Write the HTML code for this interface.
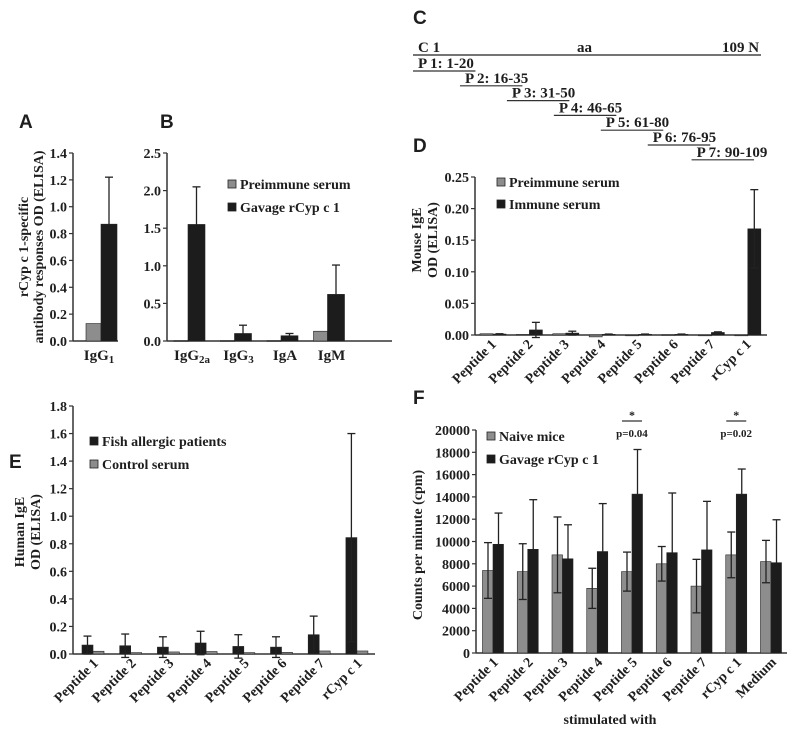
<!DOCTYPE html>
<html><head><meta charset="utf-8"><style>
html,body{margin:0;padding:0;background:#fff;}
svg{display:block;}
text{font-family:"Liberation Serif",serif;font-weight:bold;fill:#1e1e1e;}
.pl{font-family:"Liberation Sans",sans-serif;font-size:19px;}
</style></head><body>
<svg id="fig" width="800" height="735" viewBox="0 0 800 735" xmlns="http://www.w3.org/2000/svg">
<text class="pl" x="19" y="128">A</text>
<text class="pl" x="160" y="128">B</text>
<text class="pl" x="413" y="24">C</text>
<text class="pl" x="413" y="152">D</text>
<text class="pl" x="9" y="468">E</text>
<text class="pl" x="413" y="404">F</text>
<g id="panelC">
<line x1="413" y1="55" x2="761" y2="55" stroke="#222" stroke-width="1.3"/>
<text x="418" y="52" font-size="15">C 1</text>
<text x="577" y="52" font-size="15">aa</text>
<text x="722" y="52" font-size="15">109 N</text>
</g>
</svg>
<script>
// ---------- data ----------
const aCats = ["IgG1"];
const aPre = [0.13];
const aGav = [0.87];
const aGavErr = [0.35];

const bCats = ["IgG2a","IgG3","IgA","IgM"];
const bPre = [0.005,0.005,0.005,0.13];
const bGav = [1.55,0.10,0.07,0.62];
const bGavErr = [0.50,0.11,0.03,0.39];

const cPeptides = ["P 1: 1-20","P 2: 16-35","P 3: 31-50","P 4: 46-65","P 5: 61-80","P 6: 76-95","P 7: 90-109"];
const cStart = [1,16,31,46,61,76,90];
const cEnd = [20,35,50,65,80,95,109];

const dCats = ["Peptide 1","Peptide 2","Peptide 3","Peptide 4","Peptide 5","Peptide 6","Peptide 7","rCyp c 1"];
const dPre = [0.002,0.001,0.002,-0.003,0,0.0005,-0.001,-0.001];
const dImm = [0.0015,0.008,0.003,0.001,0.001,0.001,0.004,0.168];
const dImmErr = [0.0005,0.012,0.003,0.0005,0.0005,0.0005,0.001,0.062];
const dTicks = ["0.00","0.05","0.10","0.15","0.20","0.25"];

const eCats = ["Peptide 1","Peptide 2","Peptide 3","Peptide 4","Peptide 5","Peptide 6","Peptide 7","rCyp c 1"];
const ePat = [0.065,0.06,0.05,0.08,0.055,0.05,0.14,0.845];
const ePatErr = [0.065,0.085,0.075,0.085,0.085,0.075,0.135,0.755];
const eCtl = [0.02,0.01,0.015,0.018,0.01,0.012,0.022,0.022];

const fCats = ["Peptide 1","Peptide 2","Peptide 3","Peptide 4","Peptide 5","Peptide 6","Peptide 7","rCyp c 1","Medium"];
const fNaive = [7400,7300,8800,5800,7300,8000,6000,8800,8200];
const fNaiveErr = [2500,2500,3400,1800,1750,1550,2400,2050,1900];
const fGav = [9750,9300,8450,9100,14250,9000,9250,14250,8100];
const fGavErr = [2800,4450,3050,4300,4000,5350,4350,2250,3850];

// ---------- helpers ----------
const NS="http://www.w3.org/2000/svg";
const svg=document.getElementById('fig');
function el(tag,attrs,parent){const e=document.createElementNS(NS,tag);for(const k in attrs)e.setAttribute(k,attrs[k]);(parent||svg).appendChild(e);return e;}
const GRAY="#8d8d8d", BLACK="#1c1c1c";

function axis(o){
  const ys=v=>o.yZero-(v-o.vmin)/(o.vmax-o.vmin)*(o.yZero-o.yTop);
  const g=el('g',{});
  
  
  const yl=el('line',{x1:o.x0,y1:o.yTop,x2:o.x0,y2:o.yZero,stroke:'#333','stroke-width':1.5},g);
  
  
  const xl=el('line',{x1:o.x0,y1:o.yZero,x2:o.x1,y2:o.yZero,stroke:'#333','stroke-width':1.5},g);
  
  
  o.ticks.forEach((t,i)=>{
    const y=ys(t);
    el('line',{x1:o.x0-4,y1:y,x2:o.x0,y2:y,stroke:'#333','stroke-width':1.2},g);
    const tx=el('text',{x:o.x0-6,y:y+5,'text-anchor':'end','font-size':o.fs||14},g);
    tx.textContent=o.labels?o.labels[i]:t.toFixed(o.dec);
    
    
  });
  return ys;
}
function bar(x,w,y0,y1,fill,name){
  const r=el('rect',{x:x,y:Math.min(y0,y1),width:w,height:Math.max(0.8,Math.abs(y1-y0)),fill:fill,stroke:'#222','stroke-width':0.6});
  
  
}
function err(x,yv,ytop,ybot,name){
  const g=el('g',{stroke:'#222','stroke-width':1.3});
  
  
  el('line',{x1:x,y1:ybot,x2:x,y2:ytop},g);
  el('line',{x1:x-4,y1:ytop,x2:x+4,y2:ytop},g);
  if(ybot!==yv) el('line',{x1:x-4,y1:ybot,x2:x+4,y2:ybot},g);
}
function rotLabels(cats,cx,y0,name,dx){
  cats.forEach((c,i)=>{
    const x=cx(i)+dx, y=y0+10;
    const t=el('text',{x:x,y:y,'text-anchor':'end','font-size':14,transform:`rotate(-45 ${x} ${y})`});
    t.textContent=c;
    
    
  });
}
function legend(x,y,fill,label,name){
  const r=el('rect',{x:x,y:y-9,width:8,height:8,fill:fill,stroke:'#222','stroke-width':0.8});
  
  
  const t=el('text',{x:x+12,y:y,'font-size':14});
  t.textContent=label;
  
  
}
function ytitle(lines,xs,cy,name){
  lines.forEach((l,i)=>{
    const t=el('text',{x:xs[i],y:cy,'text-anchor':'middle','font-size':14,transform:`rotate(-90 ${xs[i]} ${cy})`});
    t.textContent=l;
    
    
  });
}

// ---------- Panel A ----------
{
  const ys=axis({name:'panel-a',x0:73,x1:118,yZero:341,yTop:153,vmin:0,vmax:1.4,ticks:[0,0.2,0.4,0.6,0.8,1.0,1.2,1.4],dec:1});
  const cx=i=>101+i*40;
  aCats.forEach((c,i)=>{
    bar(cx(i)-15,15,ys(0),ys(aPre[i]),GRAY,'bar-a-preimmune');
    bar(cx(i),16,ys(0),ys(aGav[i]),BLACK,'bar-a-gavage');
    err(cx(i)+8,ys(aGav[i]),ys(aGav[i]+aGavErr[i]),ys(aGav[i]),'error-a-gavage');
    const t=el('text',{x:cx(i)-2,y:360,'text-anchor':'middle','font-size':15});
    t.innerHTML='IgG<tspan font-size="11" dy="3">1</tspan>';
    
    
  });
  ytitle(["rCyp c 1-specific","antibody responses OD (ELISA)"],[28,43],247,'panel-a-y-axis-title');
}
// ---------- Panel B ----------
{
  const ys=axis({name:'panel-b',x0:167,x1:392,yZero:341,yTop:153,vmin:0,vmax:2.5,ticks:[0,0.5,1.0,1.5,2.0,2.5],dec:1});
  const cx=i=>188+i*46.5;
  const subs=[["IgG","2a"],["IgG","3"],["IgA",""],["IgM",""]];
  bCats.forEach((c,i)=>{
    bar(cx(i)-14,14,ys(0),ys(bPre[i]),GRAY,'bar-b-preimmune');
    bar(cx(i),17,ys(0),ys(bGav[i]),BLACK,'bar-b-gavage');
    err(cx(i)+8.5,ys(bGav[i]),ys(bGav[i]+bGavErr[i]),ys(bGav[i]),'error-b-gavage');
    const t=el('text',{x:cx(i)+4,y:360,'text-anchor':'middle','font-size':15});
    t.innerHTML=subs[i][0]+(subs[i][1]?'<tspan font-size="11" dy="3">'+subs[i][1]+'</tspan>':'');
    
    
  });
  legend(228,189,GRAY,'Preimmune serum','legend-b-preimmune');
  legend(228,212,BLACK,'Gavage rCyp c 1','legend-b-gavage');
}
// ---------- Panel C ----------
{
  const xs=a=>413+(a-1)*3.13;
  cPeptides.forEach((p,i)=>{
    const x1=xs(cStart[i]);
    const x2=xs(cEnd[i])+3;
    const yb=71+i*14.8;
    const t=el('text',{x:x1+5,y:yb-3,'font-size':15});
    t.textContent=p;
    
    
    const l=el('line',{x1:x1,y1:yb,x2:x2,y2:yb,stroke:'#333','stroke-width':1.2});
    
    
  });
}
// ---------- Panel D ----------
{
  const ys=axis({name:'panel-d',x0:475,x1:767,yZero:335,yTop:177,vmin:0,vmax:0.25,ticks:[0,0.05,0.10,0.15,0.20,0.25],labels:dTicks});
  const cx=i=>493+i*36.4;
  dCats.forEach((c,i)=>{
    bar(cx(i)-13,13,ys(0),ys(dPre[i]),GRAY,'bar-d-preimmune');
    bar(cx(i),13,ys(0),ys(dImm[i]),BLACK,'bar-d-immune');
    err(cx(i)+6.5,ys(dImm[i]),ys(dImm[i]+dImmErr[i]),ys(dImm[i]-dImmErr[i]),'error-d-immune');
  });
  rotLabels(dCats,cx,335,'panel-d',4);
  legend(497,187,GRAY,'Preimmune serum','legend-d-preimmune');
  legend(497,209,BLACK,'Immune serum','legend-d-immune');
  ytitle(["Mouse IgE","OD (ELISA)"],[421,437],240,'panel-d-y-axis-title');
}
// ---------- Panel E ----------
{
  const ys=axis({name:'panel-e',x0:73,x1:375,yZero:654,yTop:406,vmin:0,vmax:1.8,ticks:[0,0.2,0.4,0.6,0.8,1.0,1.2,1.4,1.6,1.8],dec:1});
  const cx=i=>93+i*37.7;
  eCats.forEach((c,i)=>{
    bar(cx(i)-11,11,ys(0),ys(ePat[i]),BLACK,'bar-e-patients');
    bar(cx(i),11,ys(0),ys(eCtl[i]),GRAY,'bar-e-control');
    err(cx(i)-5.5,ys(ePat[i]),ys(ePat[i]+ePatErr[i]),ys(Math.max(-0.03,ePat[i]-ePatErr[i])),'error-e-patients');
  });
  rotLabels(eCats,cx,654,'panel-e',6);
  legend(90,446,BLACK,'Fish allergic patients','legend-e-patients');
  legend(90,469,GRAY,'Control serum','legend-e-control');
  ytitle(["Human IgE","OD (ELISA)"],[24,40],532,'panel-e-y-axis-title');
}
// ---------- Panel F ----------
{
  const t=[];for(let v=0;v<=20000;v+=2000)t.push(v);
  const ys=axis({name:'panel-f',x0:476,x1:787,yZero:653,yTop:430,vmin:0,vmax:20000,ticks:t,dec:0});
  const cx=i=>493+i*34.75;
  fCats.forEach((c,i)=>{
    bar(cx(i)-10.5,10.5,ys(0),ys(fNaive[i]),GRAY,'bar-f-naive');
    bar(cx(i),10.5,ys(0),ys(fGav[i]),BLACK,'bar-f-gavage');
    err(cx(i)-5,ys(fNaive[i]),ys(fNaive[i]+fNaiveErr[i]),ys(fNaive[i]-fNaiveErr[i]),'error-f-naive');
    err(cx(i)+5.5,ys(fGav[i]),ys(fGav[i]+fGavErr[i]),ys(fGav[i]),'error-f-gavage');
  });
  rotLabels(fCats,cx,653,'panel-f',6);
  legend(487,441,GRAY,'Naive mice','legend-f-naive');
  legend(487,464,BLACK,'Gavage rCyp c 1','legend-f-gavage');
  ytitle(["Counts per minute (cpm)"],[422],545,'panel-f-y-axis-title');
  const xt=el('text',{x:610,y:724,'text-anchor':'middle','font-size':14});
  xt.textContent='stimulated with';
  
  
  [[4,'p=0.04'],[7,'p=0.02']].forEach(([i,p])=>{
    const x=cx(i);
    const g=el('g',{});
    
    
    el('line',{x1:x-10,y1:421,x2:x+10,y2:421,stroke:'#333','stroke-width':1.2},g);
    const s=el('text',{x:x,y:419,'text-anchor':'middle','font-size':12},g);s.textContent='*';
    const pt=el('text',{x:x,y:437,'text-anchor':'middle','font-size':11},g);pt.textContent=p;
  });
}
</script>
</body></html>
